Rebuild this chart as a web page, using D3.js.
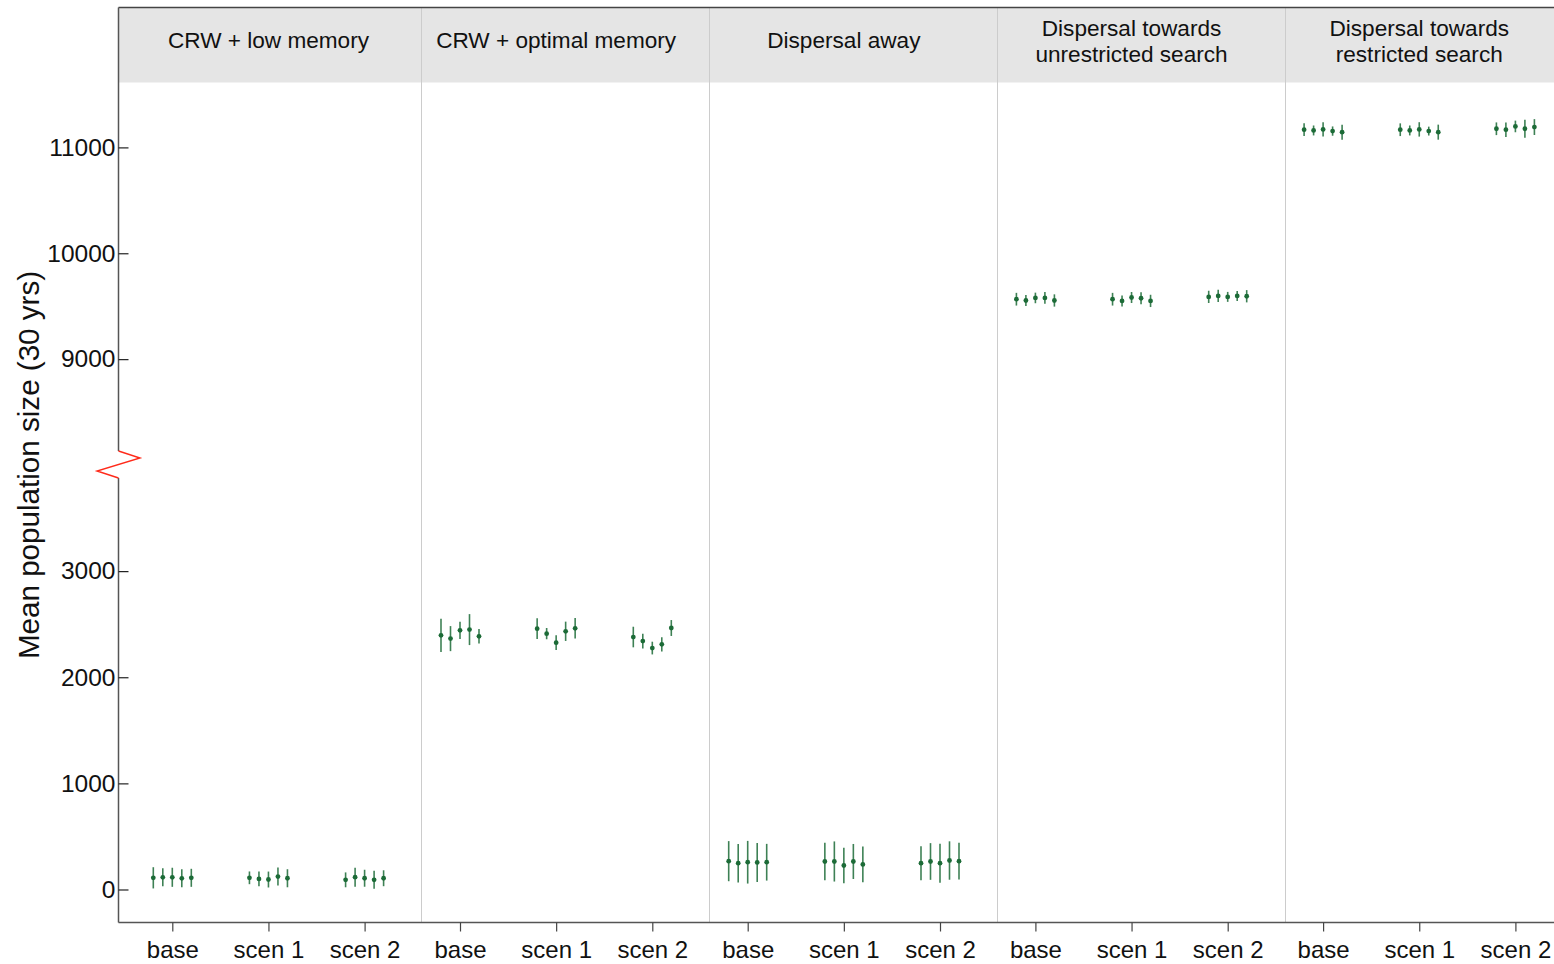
<!DOCTYPE html>
<html>
<head>
<meta charset="utf-8">
<script src="https://cdn.jsdelivr.net/npm/d3@7"></script>
<style>
  html, body { margin: 0; padding: 0; background: #fff; }
  svg { display: block; }
  text { font-family: "Liberation Sans", Arial, sans-serif; fill: #111; }
</style>
</head>
<body>
<svg id="chart" width="1554" height="964"></svg>
<script>
// ---------- data ----------
const panels = [
  "CRW + low memory",
  "CRW + optimal memory",
  "Dispersal away",
  "Dispersal towards\nunrestricted search",
  "Dispersal towards\nrestricted search"
];
const scenarios = ["base", "scen 1", "scen 2"];
const replicates = [1, 2, 3, 4, 5];

// mean population size per scenario (5 replicates each)
const meanCRWLow   = [[110, 115, 115, 105, 110], [110, 100, 94, 122, 106], [91, 116, 106, 91, 106]];
const errCRWLow    = [[100, 85, 90, 85, 85], [60, 70, 75, 85, 85], [70, 90, 80, 85, 75]];
const meanCRWOpt   = [[2395, 2364, 2442, 2449, 2386], [2458, 2411, 2326, 2433, 2461], [2379, 2341, 2275, 2310, 2464]];
const errCRWOpt    = [[157, 118, 82, 146, 68], [97, 53, 69, 91, 97], [97, 69, 60, 68, 75]];
const meanDispAway = [[267, 248, 257, 255, 257], [264, 264, 226, 264, 236], [248, 264, 248, 273, 267]];
const errDispAway  = [[189, 181, 201, 184, 173], [176, 189, 167, 165, 168], [160, 173, 184, 181, 173]];
const meanDispUnr  = [[9566, 9554, 9578, 9578, 9554], [9566, 9550, 9582, 9575, 9550], [9588, 9597, 9588, 9597, 9594]];
const errDispUnr   = [[60, 52, 50, 55, 58], [60, 52, 52, 57, 58], [58, 58, 47, 47, 58]];
const meanDispRes  = [[11167, 11160, 11170, 11154, 11144], [11167, 11160, 11170, 11154, 11144], [11176, 11167, 11198, 11176, 11192]];
const errDispRes   = [[60, 47, 68, 44, 71], [60, 47, 68, 42, 71], [60, 68, 55, 86, 75]];

const lowTicks  = [0, 1000, 2000, 3000];
const highTicks = [9000, 10000, 11000];
const yTitle = "Mean population size (30 yrs)";

const panelMeans = [meanCRWLow, meanCRWOpt, meanDispAway, meanDispUnr, meanDispRes];
const panelErrs  = [errCRWLow, errCRWOpt, errDispAway, errDispUnr, errDispRes];

const rows = [];
panels.forEach((p, pi) => scenarios.forEach((s, si) => replicates.forEach((r, ri) => {
  rows.push({ panel: p, scen: s, rep: r, mean: panelMeans[pi][si][ri], err: panelErrs[pi][si][ri] });
})));

// ---------- layout ----------
const svg = d3.select("#chart");
const mLeft = 118.5, mRight = 1554, mTop = 7.5, headerBottom = 82.5, mBottom = 922.5;
const breakY = 465;

const yLow  = d3.scaleLinear().domain([-311, 4000]).range([mBottom, breakY]);
const yHigh = d3.scaleLinear().domain([8000, 11613]).range([breakY, headerBottom]);
const y = v => v >= 6000 ? yHigh(v) : yLow(v);

const panelStep = 287.7;
const panelX = d3.scaleBand().domain(panels).range([133.7, 133.7 + panels.length * panelStep]);
const catX = d3.scalePoint().domain(scenarios).range([38.6, 230.9]);
const repX = d3.scalePoint().domain(replicates).range([-19, 19]);
const xPos = d => panelX(d.panel) + catX(d.scen) + repX(d.rep);

// header strip
svg.append("rect")
  .attr("x", mLeft).attr("y", mTop)
  .attr("width", mRight - mLeft).attr("height", headerBottom - mTop)
  .attr("fill", "#e5e5e5");

// panel dividers
svg.selectAll("line.divider")
  .data(panels.slice(1))
  .join("line")
  .attr("class", "divider")
  .attr("x1", d => Math.round(panelX(d)) + 0.5)
  .attr("x2", d => Math.round(panelX(d)) + 0.5)
  .attr("y1", mTop).attr("y2", mBottom)
  .attr("stroke", "#cccccc").attr("stroke-width", 1);

// header texts
const hdr = svg.selectAll("text.header")
  .data(panels)
  .join("text")
  .attr("class", "header")
  .attr("text-anchor", "middle")
  .attr("font-size", 22.6)
  .attr("x", d => panelX(d) + catX("scen 1"));
hdr.each(function (d) {
  const lines = d.split("\n");
  const t = d3.select(this);
  const base = lines.length === 1 ? 47.5 : 35.5;
  lines.forEach((ln, i) => {
    t.append("tspan")
      .attr("x", panelX(d) + catX("scen 1"))
      .attr("y", base + i * 26.5)
      .text(ln);
  });
});

// top frame line
svg.append("line")
  .attr("x1", mLeft).attr("x2", mRight).attr("y1", mTop).attr("y2", mTop)
  .attr("stroke", "#444").attr("stroke-width", 1.3);

// y axis lines (broken)
svg.append("line")
  .attr("x1", mLeft).attr("x2", mLeft).attr("y1", mTop).attr("y2", 451)
  .attr("stroke", "#555").attr("stroke-width", 1.5);
svg.append("line")
  .attr("x1", mLeft).attr("x2", mLeft).attr("y1", 478).attr("y2", mBottom)
  .attr("stroke", "#555").attr("stroke-width", 1.5);

// break symbol
svg.append("path")
  .attr("d", `M${mLeft},451 L140,458 L97,471 L${mLeft},478`)
  .attr("fill", "none").attr("stroke", "#ff2a1a").attr("stroke-width", 1.4);

// y axes
function styleYAxis(g) {
  g.select(".domain").remove();
  g.selectAll(".tick line").attr("stroke", "#222").attr("stroke-width", 1.2);
  g.selectAll(".tick text").attr("font-size", 24.5).attr("fill", "#111")
    .attr("font-family", "'Liberation Sans', Arial, sans-serif");
}
svg.append("g").attr("transform", `translate(${mLeft},0)`)
  .call(d3.axisLeft(yLow).tickValues(lowTicks).tickFormat(d3.format("d")).tickSizeInner(-10).tickSizeOuter(0).tickPadding(3))
  .call(styleYAxis);
svg.append("g").attr("transform", `translate(${mLeft},0)`)
  .call(d3.axisLeft(yHigh).tickValues(highTicks).tickFormat(d3.format("d")).tickSizeInner(-10).tickSizeOuter(0).tickPadding(3))
  .call(styleYAxis);

// bottom axis line
svg.append("line")
  .attr("x1", mLeft).attr("x2", mRight).attr("y1", mBottom).attr("y2", mBottom)
  .attr("stroke", "#555").attr("stroke-width", 1.5);

// x axes per panel
panels.forEach(p => {
  svg.append("g")
    .attr("transform", `translate(${panelX(p)},${mBottom})`)
    .call(d3.axisBottom(catX).tickSizeInner(9).tickSizeOuter(0).tickPadding(9))
    .call(g => {
      g.select(".domain").remove();
      g.selectAll(".tick line").attr("stroke", "#444").attr("stroke-width", 1.2);
      g.selectAll(".tick text").attr("font-size", 24).attr("fill", "#111")
        .attr("font-family", "'Liberation Sans', Arial, sans-serif");
    });
});

// y title
svg.append("text")
  .attr("transform", `translate(39,${breakY}) rotate(-90)`)
  .attr("text-anchor", "middle")
  .attr("font-size", 29.6)
  .text(yTitle);

// error bars
const green = "#1c6b37";
svg.append("g").selectAll("line.err")
  .data(rows)
  .join("line")
  .attr("class", "err")
  .attr("x1", xPos).attr("x2", xPos)
  .attr("y1", d => y(d.mean - d.err))
  .attr("y2", d => y(d.mean + d.err))
  .attr("stroke", green).attr("stroke-width", 1.6).attr("stroke-opacity", 0.85);

// points
svg.append("g").selectAll("circle.pt")
  .data(rows)
  .join("circle")
  .attr("class", "pt")
  .attr("cx", xPos).attr("cy", d => y(d.mean))
  .attr("r", 2.4)
  .attr("fill", green);
</script>
</body>
</html>
